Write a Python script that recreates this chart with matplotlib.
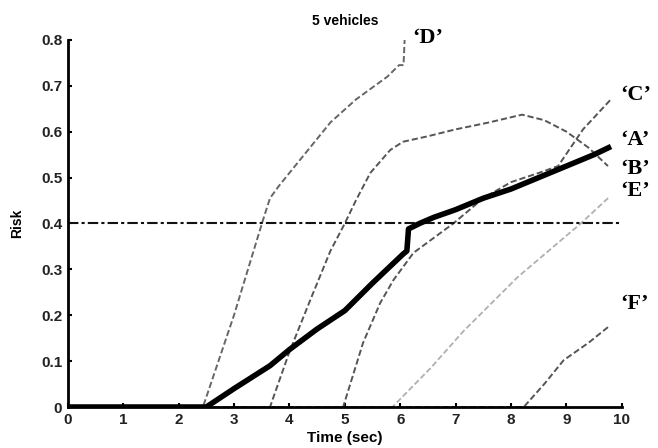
import matplotlib
matplotlib.use("Agg")
import matplotlib.pyplot as plt

# risk curves (time in sec, risk)
t_a = [0, 2.5, 3.0, 3.65, 4.0, 4.5, 5.0, 5.5, 6.05, 6.12, 6.15, 6.35, 6.6,
       7.0, 7.5, 8.0, 8.5, 9.0, 9.5, 9.76]
r_a = [0, 0, 0.04, 0.09, 0.125, 0.17, 0.21, 0.27, 0.333, 0.34, 0.388, 0.40,
       0.413, 0.43, 0.455, 0.475, 0.50, 0.525, 0.55, 0.565]

t_b = [0, 3.65, 4.0, 4.4, 4.74, 5.0, 5.2, 5.46, 5.82, 6.05, 6.5, 7.0, 7.6,
       8.2, 8.6, 9.0, 9.4, 9.75]
r_b = [0, 0, 0.12, 0.24, 0.34, 0.40, 0.45, 0.51, 0.56, 0.578, 0.59, 0.605,
       0.62, 0.637, 0.625, 0.60, 0.565, 0.525]

t_c = [0, 4.97, 5.33, 5.64, 5.88, 6.24, 6.96, 7.5, 8.0, 8.5, 8.85, 9.3, 9.8]
r_c = [0, 0, 0.14, 0.227, 0.277, 0.336, 0.40, 0.455, 0.49, 0.51, 0.525,
       0.605, 0.67]

t_d = [0, 2.44, 3.0, 3.53, 3.65, 3.8, 4.0, 4.74, 5.2, 5.77, 5.98, 6.06, 6.08]
r_d = [0, 0, 0.2, 0.41, 0.455, 0.48, 0.51, 0.62, 0.67, 0.72, 0.745, 0.745, 0.80]

t_e = [0, 5.86, 6.55, 7.14, 8.12, 9.26, 9.76]
r_e = [0, 0, 0.085, 0.165, 0.283, 0.40, 0.456]

t_f = [0, 8.23, 8.6, 8.95, 9.4, 9.76]
r_f = [0, 0, 0.05, 0.102, 0.14, 0.175]

threshold = 0.4

labels = ["\u2018D\u2019", "\u2018C\u2019", "\u2018A\u2019", "\u2018B\u2019", "\u2018E\u2019", "\u2018F\u2019"]
label_x = [6.22, 9.98, 9.98, 9.98, 9.98, 9.98]
label_y = [0.804, 0.68, 0.582, 0.519, 0.471, 0.224]

xticks = list(range(0, 11))
yticks = [0, 0.1, 0.2, 0.3, 0.4, 0.5, 0.6, 0.7, 0.8]
ytick_labels = ["0", "0.1", "0.2", "0.3", "0.4", "0.5", "0.6", "0.7", "0.8"]

plt.rcParams['font.family'] = ['Liberation Sans', 'DejaVu Sans']
plt.rcParams['font.weight'] = 'bold'

fig = plt.figure(figsize=(6.58, 4.48), dpi=100)
ax = fig.add_axes([0.103, 0.0915, 0.842, 0.8195])

dash = (0, (3.2, 1.5))
ax.plot(t_d, r_d, color='#666666', lw=1.4, linestyle=dash)
ax.plot(t_b, r_b, color='#555555', lw=1.4, linestyle=dash)
ax.plot(t_c, r_c, color='#555555', lw=1.4, linestyle=dash)
ax.plot(t_e, r_e, color='#b0b0b0', lw=1.3, linestyle=dash)
ax.plot(t_f, r_f, color='#555555', lw=1.4, linestyle=dash)
ax.plot([0, 9.98], [threshold, threshold], color='#111111', lw=1.5,
        linestyle=(0, (5, 1.5, 1.5, 1.5)))
ax.plot(t_a, r_a, color='black', lw=4, solid_joinstyle='round')

for lab, x, y in zip(labels, label_x, label_y):
    ax.text(x, y, lab, family='Liberation Serif', fontsize=16,
            fontweight='bold', ha='left', va='center', clip_on=False)

ax.set_xlim(0, 10)
ax.set_ylim(0, 0.8)
ax.set_xticks(xticks)
ax.set_yticks(yticks)
ax.set_yticklabels(ytick_labels)
ax.tick_params(direction='in', length=3, width=1.5, labelsize=11, pad=4,
               labelcolor='#222222')
for lab in ax.get_xticklabels() + ax.get_yticklabels():
    lab.set_fontweight('bold')
ax.spines['top'].set_visible(False)
ax.spines['right'].set_visible(False)
ax.spines['left'].set_linewidth(2)
ax.spines['bottom'].set_linewidth(2)

ax.set_title("5 vehicles", fontsize=10, fontweight='bold', pad=11)
ax.set_xlabel("Time (sec)", fontsize=11, fontweight='bold', labelpad=3)
ax.set_ylabel("Risk", fontsize=10, fontweight='bold', labelpad=12)

fig.savefig("out.png", dpi=100)
